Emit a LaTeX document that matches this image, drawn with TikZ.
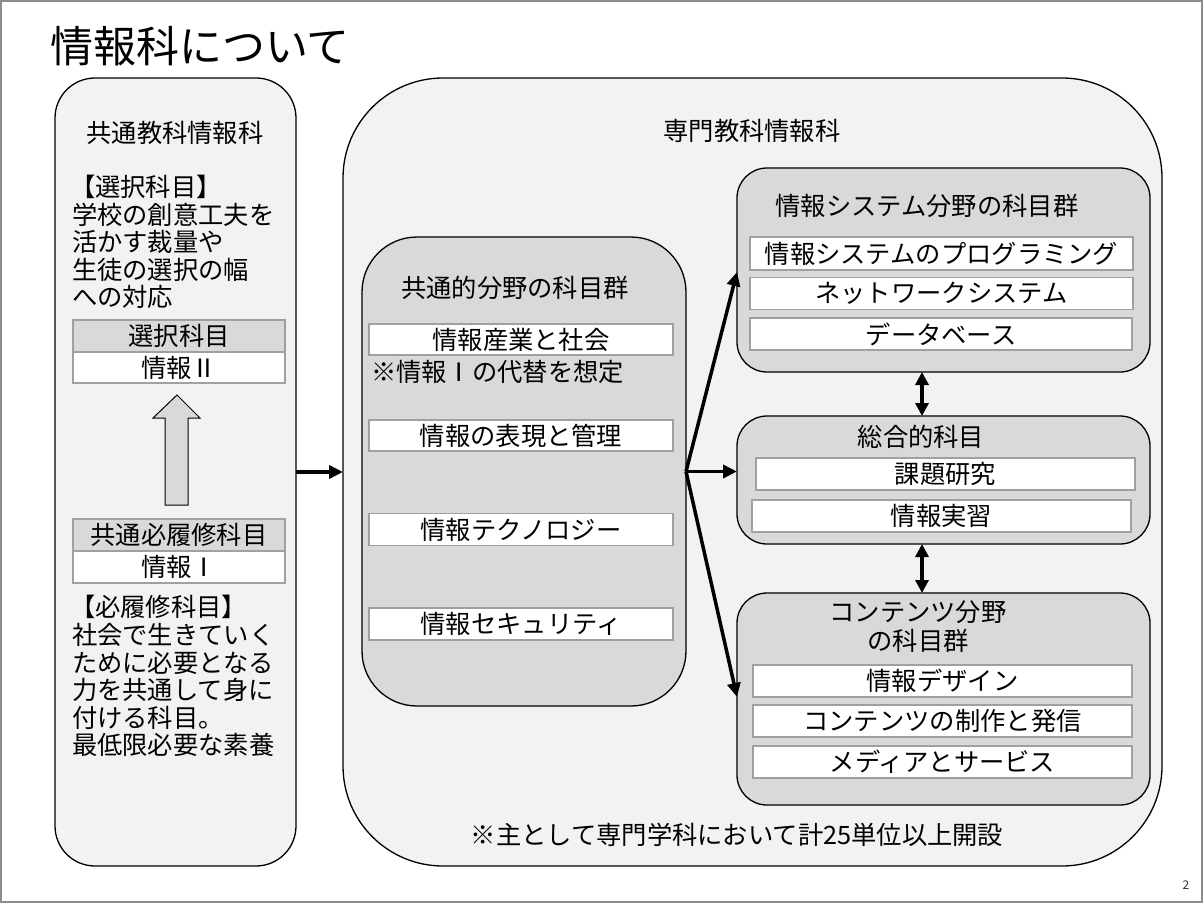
\documentclass[tikz,border=0pt]{standalone}
\usepackage{fontspec}
\setmainfont{Noto Sans CJK JP}
\usetikzlibrary{arrows.meta,calc}
\definecolor{panelbg}{HTML}{F2F2F2}
\definecolor{groupbg}{HTML}{D9D9D9}
\definecolor{boxline}{HTML}{A0A0A0}
\definecolor{pageline}{HTML}{8C8C8C}
\begin{document}
\begin{tikzpicture}[x=1pt,y=-1pt,
  every node/.style={font=\fontsize{25.3}{27.5}\selectfont, inner sep=0pt, outer sep=0pt},
  panel/.style={draw=black, line width=1.3pt, fill=panelbg},
  grp/.style={draw=black, line width=1.3pt, fill=groupbg, rounded corners=30pt},
  item/.style={draw=boxline, line width=1.5pt, fill=white, minimum height=32pt},
  headbox/.style={item, fill=groupbg},
  txt/.style={anchor=west},
  arr/.style={line width=3.5pt, -{Triangle[length=14pt,width=13pt]}},
  dbl/.style={line width=3.5pt, {Triangle[length=13pt,width=13pt]}-{Triangle[length=13pt,width=13pt]}},
  blockarrow/.style={draw=black, line width=1pt, fill=groupbg}
]
\useasboundingbox (0,0) rectangle (1204,904);
\fill[white] (0,0) rectangle (1204,904);
\draw[pageline, line width=1.2pt] (1,1) rectangle (1202,902);

% title
\node[anchor=west, font=\fontsize{43}{47}\selectfont] (title) at (50,46) {情報科について};

% left panel
\node[panel, rounded corners=40pt, minimum width=241pt, minimum height=788pt] (L) at (175.5,472) {};
\node (Lt) at (175,133) {共通教科情報科};
\node[txt] (l1) at (70,187) {【選択科目】};
\node[txt] (l2) at (72,214.5) {学校の創意工夫を};
\node[txt] (l3) at (72,242) {活かす裁量や};
\node[txt] (l4) at (72,269.5) {生徒の選択の幅};
\node[txt] (l5) at (72,297) {への対応};

\node[headbox, minimum width=212pt] (selh) at (179,336) {選択科目};
\node[item, minimum width=212pt, minimum height=31pt] (info2) at (179,367.5) {情報Ⅱ};
\node[headbox, minimum width=212pt] (reqh) at (179,535) {共通必履修科目};
\node[item, minimum width=212pt] (info1) at (179,567) {情報Ⅰ};

\draw[blockarrow] (165,505) -- (165,418) -- (153,418) -- (177,395) -- (200,418) -- (188,418) -- (188,505) -- cycle;

\node[txt] (m1) at (70,607) {【必履修科目】};
\node[txt] (m2) at (72,635) {社会で生きていく};
\node[txt] (m3) at (72,662.5) {ために必要となる};
\node[txt] (m4) at (72,690) {力を共通して身に};
\node[txt] (m5) at (72,717.5) {付ける科目。};
\node[txt] (m6) at (72,745) {最低限必要な素養};

% right big panel
\node[panel, rounded corners=100pt, minimum width=819pt, minimum height=788pt] (R) at (752.5,472) {};
\node (Rt) at (752,131) {専門教科情報科};
\node (note) at (737,835) {※主として専門学科において計25単位以上開設};

% common group
\node[grp, rounded corners=55pt, minimum width=324pt, minimum height=469pt] (C) at (524,471.5) {};
\node (Ct) at (515,288) {共通的分野の科目群};
\node[item, minimum width=304pt, minimum height=31pt] (c1) at (521,339.5) {情報産業と社会};
\node[txt] (cnote) at (371,372) {※情報Ⅰの代替を想定};
\node[item, minimum width=304pt, minimum height=31pt] (c2) at (521,435.5) {情報の表現と管理};
\node[item, minimum width=304pt] (c3) at (521,529.5) {情報テクノロジー};
\node[item, minimum width=304pt] (c4) at (521,624) {情報セキュリティ};

% system group
\node[grp, minimum width=413pt, minimum height=204pt] (S) at (943.5,270) {};
\node (St) at (927,206) {情報システム分野の科目群};
\node[item, minimum width=383pt, minimum height=33pt] (s1) at (941.5,253.5) {情報システムのプログラミング};
\node[item, minimum width=383pt] (s2) at (941.5,293.5) {ネットワークシステム};
\node[item, minimum width=382pt] (s3) at (941,334) {データベース};

% sogo group
\node[grp, minimum width=413pt, minimum height=128pt] (G) at (943.5,480) {};
\node (Gt) at (921,437) {総合的科目};
\node[item, minimum width=379pt] (g1) at (945.5,474) {課題研究};
\node[item, minimum width=379pt] (g2) at (941.5,516) {情報実習};

% contents group
\node[grp, minimum width=413pt, minimum height=212pt] (T) at (943.5,699) {};
\node (Tt1) at (918,612) {コンテンツ分野};
\node (Tt2) at (918,641) {の科目群};
\node[item, minimum width=379pt] (t1) at (942.5,681) {情報デザイン};
\node[item, minimum width=379pt] (t2) at (942.5,721) {コンテンツの制作と発信};
\node[item, minimum width=379pt] (t3) at (942.5,762) {メディアとサービス};

% connectors
\draw[arr] (L.east) -- (R.west);
\draw[arr] (C.east) -- ([yshift=-2pt]S.west);
\draw[arr] (C.east) -- (C.east -| G.west);
\draw[arr] (C.east) -- ([yshift=2pt]T.west);
\draw[dbl] ([xshift=-21.5pt]S.south) -- ([xshift=-21.5pt]G.north);
\draw[dbl] ([xshift=-21.5pt]G.south) -- ([xshift=-21.5pt]T.north);

% page number
\node[font=\fontsize{12}{14}\selectfont, text=black!80] (pg) at (1186,885) {2};
\end{tikzpicture}
\end{document}
